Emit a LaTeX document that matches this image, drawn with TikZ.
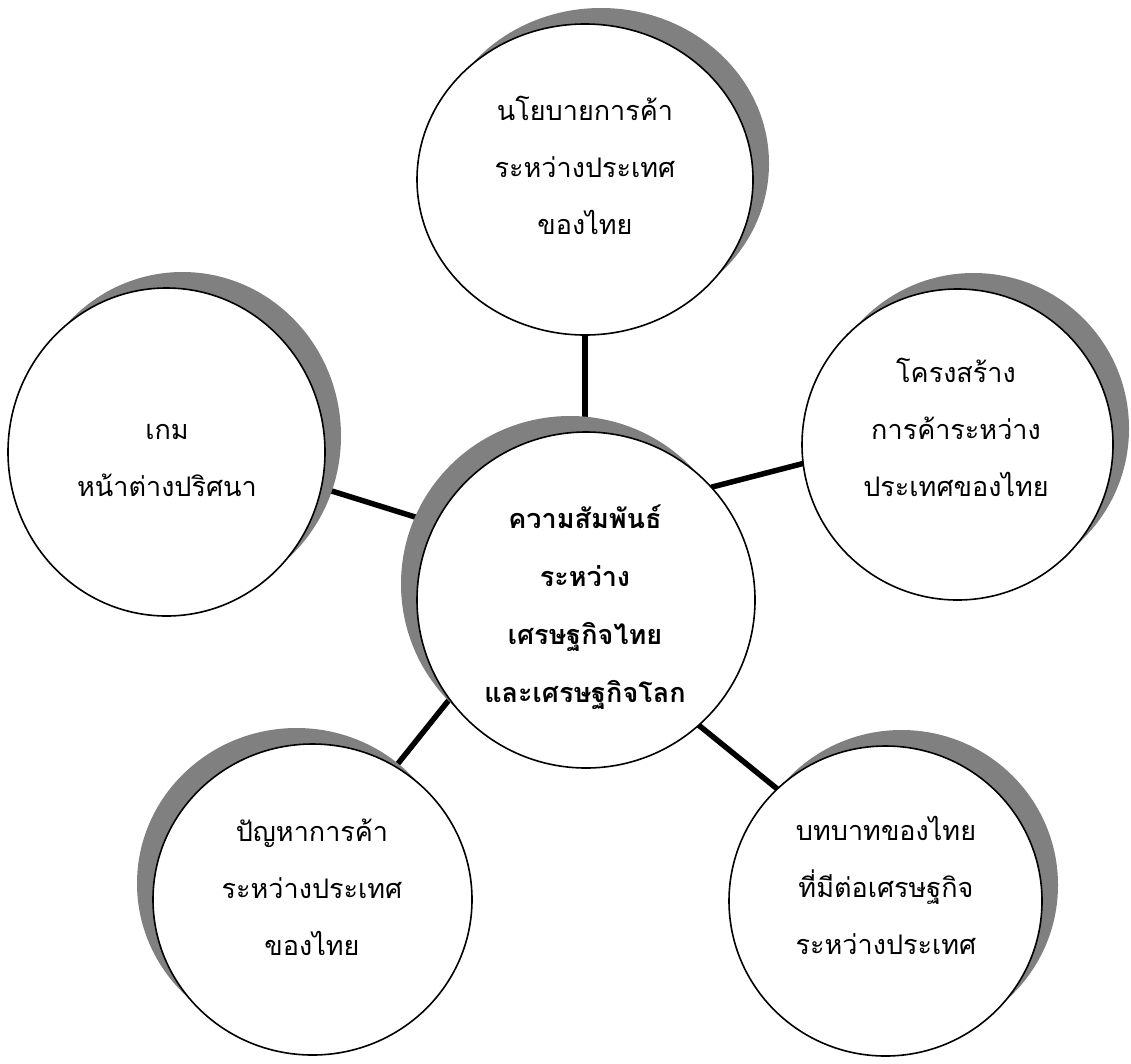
\documentclass[tikz,border=0pt]{standalone}
\usepackage{fontspec}
\newfontfamily\thaifont[Script=Thai]{Loma}
\usetikzlibrary{shapes.geometric,shadows,backgrounds}
\begin{document}
\begin{tikzpicture}[x=1pt,y=-1pt,
  bubble/.style={ellipse,draw=black,line width=1.6pt,fill=white,inner sep=0pt,outer sep=0pt},
  shR/.style={drop shadow={shadow xshift=16pt,shadow yshift=16pt,fill=gray,opacity=1}},
  shL/.style={drop shadow={shadow xshift=-16pt,shadow yshift=16pt,fill=gray,opacity=1}},
  lbl/.style={font=\thaifont\fontsize{27}{57}\selectfont,align=center,inner sep=0pt},
  conn/.style={line width=5.5pt,black}
]
\useasboundingbox (0,0) rectangle (1131,1063);
% circles
\node[bubble,shR,minimum width=336pt,minimum height=311pt] (T) at (585,179.5) {};
\node[bubble,shR,minimum width=317pt,minimum height=328pt] (L) at (166.5,452) {};
\node[bubble,shL,minimum width=338pt,minimum height=336pt] (C) at (586,600) {};
\node[bubble,shR,minimum width=311pt,minimum height=311pt] (R) at (957.5,444.5) {};
\node[bubble,shR,minimum width=313pt,minimum height=310pt] (BR) at (885.5,901) {};
\node[bubble,shL,minimum width=319pt,minimum height=311pt] (BL) at (312.5,899.5) {};
% texts
\node[lbl] (Tt) at (585,165) {นโยบายการค้า\\ระหว่างประเทศ\\ของไทย};
\node[lbl] (Lt) at (167,460) {เกม\\หน้าต่างปริศนา};
\node[lbl,font=\thaifont\bfseries\fontsize{27}{58}\selectfont] (Ct) at (585,607) {ความสัมพันธ์\\ระหว่าง\\เศรษฐกิจไทย\\และเศรษฐกิจโลก};
\node[lbl] (Rt) at (956,427) {โครงสร้าง\\การค้าระหว่าง\\ประเทศของไทย};
\node[lbl] (BRt) at (886,885) {บทบาทของไทย\\ที่มีต่อเศรษฐกิจ\\ระหว่างประเทศ};
\node[lbl] (BLt) at (312,887) {ปัญหาการค้า\\ระหว่างประเทศ\\ของไทย};
% connectors
\begin{scope}[on background layer]
\draw[conn] (T.south) -- (T.south |- C.north);
\draw[conn] (C.42.8) -- (R.187);
\draw[conn] (L.-13.2) -- (C.153.3);
\draw[conn] (C.-48.8) -- (BR.134.9);
\draw[conn] (C.216.9) -- (BL.58.2);
\end{scope}
\end{tikzpicture}
\end{document}
